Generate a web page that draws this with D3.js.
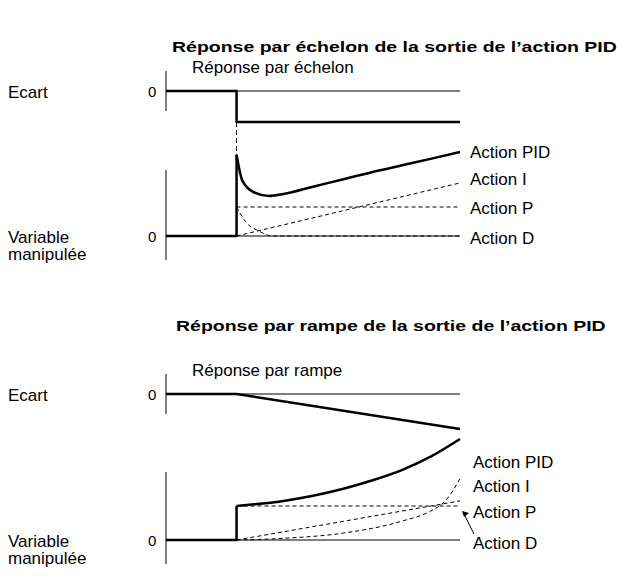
<!DOCTYPE html>
<html><head><meta charset="utf-8">
<script src="https://cdn.jsdelivr.net/npm/d3@7"></script>
<style>body{margin:0;background:#fff}text{font-family:Arial,"Liberation Sans",sans-serif;fill:#000}</style>
</head><body><div id="chart"></div>
<script>
// time points (step applied at t=2.4)
const stepT = 2.4;
const stepDev = [[0,0],[2.4,0],[2.4,-1],[10,-1]];
const stepPID = [[0,0],[2.4,0],[2.4,2.8],[2.6,1.9],[3,1.5],[3.5,1.38],[4,1.45],[5,1.7],[6,1.95],[7,2.2],[8,2.43],[9,2.66],[10,2.9]];
const stepI = [[2.4,0],[10,1.83]];
const stepP = [[2.4,1],[10,1]];
const stepD = [[2.4,1],[2.7,0.5],[3.2,0.15],[3.6,0],[10,0]];
const rampDev = [[0,0],[2.4,0],[10,-1]];
const rampPID = [[0,0],[2.4,0],[2.4,1],[3,1.05],[4,1.15],[5,1.3],[6,1.5],[7,1.75],[8,2.05],[9,2.45],[10,2.97]];
const rampP = [[2.4,0],[10,1.15]];
const rampI = [[2.4,0],[4,0.05],[6,0.2],[8,0.55],[9,0.85],[9.5,1.15],[10,1.8]];
const rampD = [[2.4,1],[10,1]];
const legend = ["Action PID","Action I","Action P","Action D"];

const svg = d3.select("#chart").append("svg").attr("width",629).attr("height",576);
const x = d3.scaleLinear().domain([0,10]).range([166,460]);

function panel(o){
  const yd = d3.scaleLinear().domain([-1,0]).range([o.dev0+o.devH,o.dev0]);
  const ym = d3.scaleLinear().domain([0,1]).range([o.man0,o.man0-o.unit]);
  const g = svg.append("g");
  g.append("text").attr("transform",`translate(${o.titleX},${o.titleY}) scale(1.3,1)`).attr("font-size",15).attr("font-weight","bold").text(o.title);
  g.append("text").attr("x",192).attr("y",o.subY).attr("font-size",17).text(o.sub);
  g.append("text").attr("x",8).attr("y",o.dev0+7).attr("font-size",17).text("Ecart");
  g.append("text").attr("x",8).attr("y",o.man0+7).attr("font-size",17).text("Variable");
  g.append("text").attr("x",8).attr("y",o.man0+24).attr("font-size",17).text("manipulée");
  [o.dev0,o.man0].forEach(v=>g.append("text").attr("x",148).attr("y",v+6).attr("font-size",15).text("0"));
  const thin = (x1,y1,x2,y2,w=1,d=null)=>g.append("line").attr("x1",x1).attr("y1",y1).attr("x2",x2).attr("y2",y2).attr("stroke","#000").attr("stroke-width",w).attr("stroke-dasharray",d);
  thin(166,o.dev0-20,166,o.dev0+20);
  thin(166,o.man0-o.axUp,166,o.man0+24);
  thin(166,o.dev0,x(10),o.dev0);
  thin(166,o.man0,x(10),o.man0);
  const ln = (data,y,w,dash,curve)=>g.append("path").datum(data).attr("fill","none").attr("stroke","#000")
     .attr("stroke-width",w).attr("stroke-dasharray",dash).attr("stroke-linejoin","round")
     .attr("d",d3.line().curve(curve||d3.curveLinear).x(d=>x(d[0])).y(d=>y(d[1])));
  ln(o.dev,yd,2.5,null);
  o.dashes.forEach(d=>ln(d,ym,1,"4,3",d3.curveMonotoneX));
  ln(o.pid.slice(0,3),ym,2.5,null);
  ln(o.pid.slice(2),ym,2.5,null,d3.curveMonotoneX);
  if(o.link) thin(x(stepT),yd(-1),x(stepT),ym(o.pid[2][1]),1,"5,3");
  legend.forEach((t,i)=>g.append("text").attr("x",o.legX).attr("y",o.legY[i]).attr("font-size",17).text(t));
  if(o.arrow){
    g.append("line").attr("x1",474).attr("y1",o.legY[3]-15).attr("x2",x(10)+4).attr("y2",ym(1)+8).attr("stroke","#000");
    g.append("path").attr("d",`M${x(10)+2},${ym(1)+5} l7,2 l-5,4 z`).attr("fill","#000");
  }
}

panel({title:"Réponse par échelon de la sortie de l’action PID",titleX:172,titleY:52,sub:"Réponse par échelon",subY:73,
  dev0:91,devH:31,man0:236,unit:29,axUp:66,dev:stepDev,pid:stepPID,dashes:[stepI,stepP,stepD],link:true,
  legX:470,legY:[158,185,214,244]});
panel({title:"Réponse par rampe de la sortie de l’action PID",titleX:176,titleY:331,sub:"Réponse par rampe",subY:376,
  dev0:394,devH:35,man0:540,unit:34,axUp:68,dev:rampDev,pid:rampPID,dashes:[rampP,rampI,rampD],arrow:true,
  legX:473,legY:[468,492,518,549]});
</script></body></html>
